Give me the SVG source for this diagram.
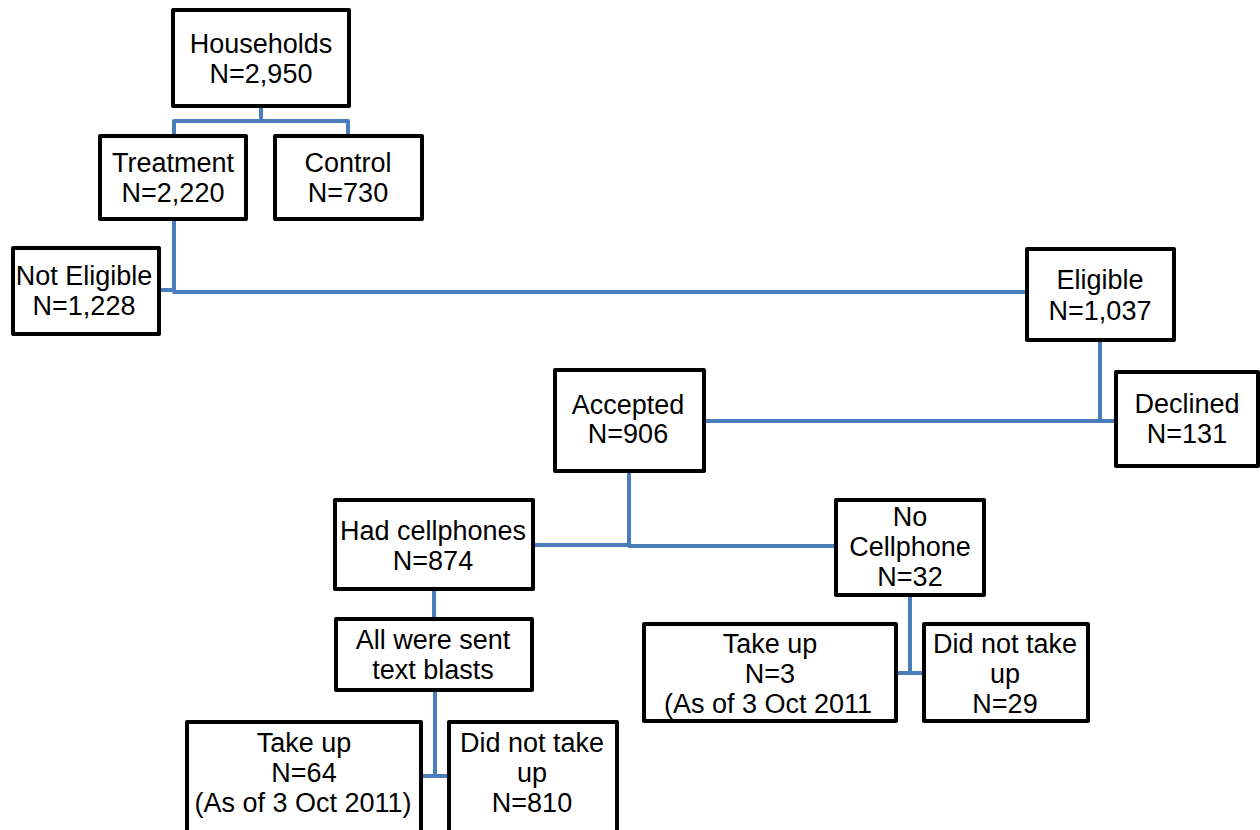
<svg xmlns="http://www.w3.org/2000/svg" width="1260" height="830" viewBox="0 0 1260 830">
<style>
.box{fill:#fff;stroke:#000;stroke-width:4;stroke-linejoin:round}
.t{font-family:"Liberation Sans",Arial,sans-serif;font-size:27px;fill:#000;text-anchor:middle}
.c{fill:none;stroke:#4a7ebb;stroke-width:4;stroke-linejoin:round}
</style>
<rect width="1260" height="830" fill="#fff"/>
<g id="connectors">
<path class="c" d="M261 106 V121 M174 136 V121 H348 V136"/>
<path class="c" d="M174 219 V292 H1028 M159 290 H174"/>
<path class="c" d="M1100 340 V421 H1116 M704 421 H1100"/>
<path class="c" d="M629 471 V546 H836 M533 545 H629"/>
<path class="c" d="M434 589 V619"/>
<path class="c" d="M910 595 V673 M896 673 H924"/>
<path class="c" d="M435 690 V776 M421 776 H449"/>
</g>
<g id="households"><rect class="box" x="173" y="10" width="176" height="96"/><text class="t" x="261" y="53">Households</text><text class="t" x="261" y="83">N=2,950</text></g>
<g id="treatment"><rect class="box" x="100" y="136" width="146" height="83"/><text class="t" x="173" y="172">Treatment</text><text class="t" x="173" y="202">N=2,220</text></g>
<g id="control"><rect class="box" x="275" y="136" width="147" height="83"/><text class="t" x="348" y="172">Control</text><text class="t" x="348" y="202">N=730</text></g>
<g id="not-eligible"><rect class="box" x="13" y="248" width="146" height="86"/><text class="t" x="84" y="285">Not Eligible</text><text class="t" x="84" y="315">N=1,228</text></g>
<g id="eligible"><rect class="box" x="1027" y="249" width="147" height="91"/><text class="t" x="1100" y="289">Eligible</text><text class="t" x="1100" y="320">N=1,037</text></g>
<g id="declined"><rect class="box" x="1116" y="372" width="142" height="94"/><text class="t" x="1187" y="413">Declined</text><text class="t" x="1187" y="443">N=131</text></g>
<g id="accepted"><rect class="box" x="555" y="370" width="149" height="101"/><text class="t" x="628" y="414">Accepted</text><text class="t" x="628" y="443">N=906</text></g>
<g id="had-cellphones"><rect class="box" x="335" y="500" width="198" height="89"/><text class="t" x="433" y="540">Had cellphones</text><text class="t" x="433" y="570">N=874</text></g>
<g id="text-blasts"><rect class="box" x="336" y="619" width="196" height="71"/><text class="t" x="433" y="649">All were sent</text><text class="t" x="433" y="679">text blasts</text></g>
<g id="no-cellphone"><rect class="box" x="836" y="500" width="148" height="95"/><text class="t" x="910" y="526">No</text><text class="t" x="910" y="556">Cellphone</text><text class="t" x="910" y="586">N=32</text></g>
<g id="take-up-3"><rect class="box" x="644" y="624" width="252" height="97"/><text class="t" x="770" y="653">Take up</text><text class="t" x="770" y="683">N=3</text><text class="t" x="768" y="713">(As of 3 Oct 2011</text></g>
<g id="not-take-up-29"><rect class="box" x="924" y="624" width="164" height="97"/><text class="t" x="1005" y="653">Did not take</text><text class="t" x="1005" y="683">up</text><text class="t" x="1005" y="713">N=29</text></g>
<g id="take-up-64"><rect class="box" x="187" y="722" width="234" height="130"/><text class="t" x="304" y="752">Take up</text><text class="t" x="304" y="782">N=64</text><text class="t" x="303" y="812">(As of 3 Oct 2011)</text></g>
<g id="not-take-up-810"><rect class="box" x="449" y="722" width="168" height="130"/><text class="t" x="532" y="752">Did not take</text><text class="t" x="532" y="782">up</text><text class="t" x="532" y="812">N=810</text></g>
</svg>
